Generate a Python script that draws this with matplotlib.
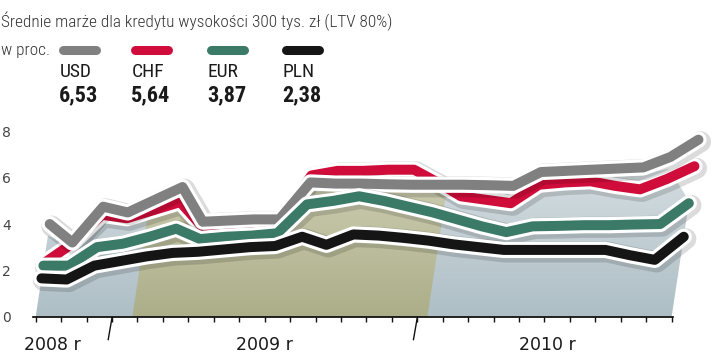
import numpy as np
import matplotlib
matplotlib.use("Agg")
import matplotlib.pyplot as plt
import matplotlib.patheffects as pe
from matplotlib.colors import LinearSegmentedColormap
from matplotlib.patches import Polygon
from matplotlib.transforms import Affine2D
from matplotlib.lines import Line2D

# monthly points, month 0 = first tick on the axis
months = np.arange(26)

usd = [4.0, 3.2, 4.75, 4.5, 5.05, 5.6, 4.1, 4.15, 4.2, 4.2, 5.8, 5.75, 5.75, 5.72,
       5.7, 5.7, 5.7, 5.68, 5.65, 6.25, 6.3, 6.35, 6.4, 6.45, 6.9, 7.65]
chf = [2.3, 3.15, 4.4, 4.25, 4.6, 4.95, 3.9, 3.95, 4.0, 4.1, 6.1, 6.3, 6.3, 6.35,
       6.35, 5.8, 5.2, 5.05, 4.9, 5.7, 5.8, 5.85, 5.65, 5.5, 5.95, 6.5]
eur = [2.2, 2.2, 3.0, 3.15, 3.45, 3.8, 3.35, 3.45, 3.5, 3.6, 4.85, 5.0, 5.2, 5.0,
       4.75, 4.5, 4.2, 3.9, 3.65, 3.9, 3.92, 3.95, 3.95, 3.98, 4.0, 4.9]
pln = [1.65, 1.6, 2.2, 2.4, 2.6, 2.75, 2.8, 2.9, 3.0, 3.05, 3.45, 3.1, 3.55, 3.5,
       3.4, 3.28, 3.12, 3.0, 2.88, 2.88, 2.88, 2.88, 2.88, 2.65, 2.45, 3.45]
# background band behind the lines
band = [3.5, 3.0, 4.3, 4.2, 4.6, 5.1, 3.6, 3.65, 3.7, 3.75, 5.4, 5.45, 5.45, 5.4,
        5.4, 5.4, 5.4, 5.35, 5.35, 5.9, 5.95, 6.0, 6.05, 6.1, 6.4, 5.0]
olive_span = (3.8, 15.4)

names = ["USD", "CHF", "EUR", "PLN"]
latest = ["6,53", "5,64", "3,87", "2,38"]
colors = {"USD": "#808080", "CHF": "#d00c3a", "EUR": "#3c7a68", "PLN": "#151515"}
series = {"USD": usd, "CHF": chf, "EUR": eur, "PLN": pln}

year_labels = ["2008 r", "2009 r", "2010 r"]
year_label_x = [0.64, 9.0, 20.1]
year_breaks = [3, 15]

W, H = 720, 363
fig = plt.figure(figsize=(W / 100, H / 100), dpi=100)
ax = fig.add_axes([33 / W, 46.5 / H, 672 / W, 196.5 / H])
ax.set_xlim(-0.106, 26.31)
ax.set_ylim(0, 8.5)

# pseudo-3D: shift right with height
skew = Affine2D(np.array([[1.0, 0.1376, 0.0], [0.0, 1.0, 0.0], [0.0, 0.0, 1.0]]))
tr = skew + ax.transData


def gradient(poly_m, poly_v, c0, c1, z):
    verts = np.column_stack([poly_m, poly_v])
    patch = Polygon(verts, closed=True, transform=tr, facecolor="none", edgecolor="none")
    cmap = LinearSegmentedColormap.from_list("g", [c0, c1])
    grad = np.linspace(0, 1, 256).reshape(-1, 1)
    im = ax.imshow(grad, extent=(-2, 28, 0, 7.0), origin="lower", cmap=cmap,
                   aspect="auto", zorder=z, interpolation="bilinear")
    im.set_clip_path(patch)


band = np.array(band)
gradient(np.r_[months, months[::-1]], np.r_[band, np.zeros(26)], "#adbec5", "#d8e0e3", 1)
m_ol = np.r_[olive_span[0], months[(months > olive_span[0]) & (months < olive_span[1])], olive_span[1]]
v_ol = np.interp(m_ol, months, band)
gradient(np.r_[m_ol, m_ol[::-1]], np.r_[v_ol, np.zeros(len(m_ol))], "#acae89", "#d0d1b6", 1.5)

lw = 7.2
for name in ["CHF", "USD", "EUR", "PLN"]:
    ax.plot(months, series[name], color=colors[name], lw=lw, transform=tr, zorder=3,
            solid_capstyle="round", solid_joinstyle="round", clip_on=False,
            path_effects=[
                pe.SimpleLineShadow(offset=(1.5, -1.5), shadow_color="#000000", alpha=0.14,
                                    linewidth=lw + 8, capstyle="round", joinstyle="round"),
                pe.Stroke(linewidth=lw + 4.5, foreground="white", capstyle="round", joinstyle="round"),
                pe.Normal(),
            ])

for s in ["top", "right", "left"]:
    ax.spines[s].set_visible(False)
ax.spines["bottom"].set_bounds(-0.1, 25.05)
ax.spines["bottom"].set_linewidth(1.2)
ax.set_xticks(months)
ax.set_xticklabels([])
ax.tick_params(axis="x", length=3.5, width=1, direction="out", color="#111111")
ax.set_yticks([0, 2, 4, 6, 8])
ax.set_yticklabels(["0", "2", "4", "6", "8"])
ax.tick_params(axis="y", length=0, pad=16, labelsize=10, labelcolor="#444444")

for m in year_breaks:
    ax.plot([m, m - 0.15], [-0.05, -1.0], color="#111111", lw=1, clip_on=False)
for lab, x in zip(year_labels, year_label_x):
    ax.text(x, -1.25, lab, ha="center", va="center", fontsize=12.5, color="#1a1a1a",
            family="DejaVu Sans", clip_on=False)

narrow = ["Roboto Condensed", "Sofia Sans Condensed", "DejaVu Sans"]
fig.text(1 / W, 1 - 21 / H, "Średnie marże dla kredytu wysokości 300 tys. zł (LTV 80%)",
         ha="left", va="center", fontsize=12.4, color="#333333", family=narrow,
         fontweight="light", fontstretch="condensed")
fig.text(1 / W, 1 - 50 / H, "w proc.", ha="left", va="center", fontsize=12.4,
         color="#333333", family=narrow, fontweight="light", fontstretch="condensed")

pill_x = [58, 130, 206, 281]
for name, val, x0 in zip(names, latest, pill_x):
    fig.add_artist(Line2D([(x0 + 4.5) / W, (x0 + 37.5) / W], [1 - 50 / H, 1 - 50 / H],
                          transform=fig.transFigure, color=colors[name], lw=6.5,
                          solid_capstyle="round"))
    fig.text((x0 + 2) / W, 1 - 72 / H, name, ha="left", va="center", fontsize=14,
             color="#1a1a1a", family=narrow, fontstretch="condensed")
    fig.text((x0 + 1) / W, 1 - 95 / H, val, ha="left", va="center", fontsize=16,
             fontweight="bold", color="#1a1a1a", family=narrow, fontstretch="condensed")

fig.savefig("out.png", dpi=100)
